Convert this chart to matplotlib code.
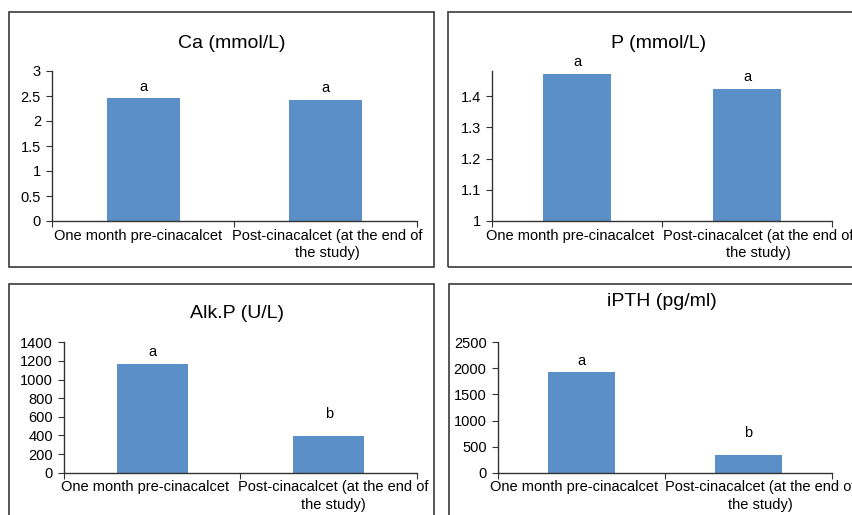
import matplotlib.pyplot as plt
import matplotlib.patches as patches

plt.rcParams['font.family'] = ['Liberation Sans', 'DejaVu Sans']

categories = ['One month pre-cinacalcet', 'Post-cinacalcet (at the end of\nthe study)']

titles = ['Ca (mmol/L)', 'P (mmol/L)', 'Alk.P (U/L)', 'iPTH (pg/ml)']
ca_values = [2.45, 2.42]
p_values = [1.471, 1.423]
alkp_values = [1164, 394]
ipth_values = [1930, 339]
letters_ca = ['a', 'a']
letters_p = ['a', 'a']
letters_alkp = ['a', 'b']
letters_ipth = ['a', 'b']

ylims = [(0, 3), (1, 1.48), (0, 1400), (0, 2500)]
yticks = [[0, 0.5, 1, 1.5, 2, 2.5, 3],
          [1, 1.1, 1.2, 1.3, 1.4],
          [0, 200, 400, 600, 800, 1000, 1200, 1400],
          [0, 500, 1000, 1500, 2000, 2500]]
yticklabels = [['0', '0.5', '1', '1.5', '2', '2.5', '3'],
               ['1', '1.1', '1.2', '1.3', '1.4'],
               ['0', '200', '400', '600', '800', '1000', '1200', '1400'],
               ['0', '500', '1000', '1500', '2000', '2500']]

W, H = 853, 515
fig = plt.figure(figsize=(W / 100, H / 100), dpi=100)

# panel frames in pixels: x0, y0 (top), x1, y1 (bottom)
frames = [(8.5, 12, 434, 266.5), (447.5, 12, 880, 266.5),
          (8.5, 284, 434, 540), (449.5, 284, 880, 540)]
for x0, y0, x1, y1 in frames:
    fig.patches.append(patches.Rectangle((x0 / W, 1 - y1 / H), (x1 - x0) / W, (y1 - y0) / H,
                                         transform=fig.transFigure, fill=False,
                                         edgecolor='#3a3a3a', linewidth=1.2))

# axes rectangles in pixels: left, right, top, bottom
boxes = [(52, 417, 71, 221), (492, 832, 71, 221),
         (64, 417, 342.3, 472.7), (497.7, 831.7, 342.3, 472.7)]
title_y = [43, 43, 313, 302]

data = [ca_values, p_values, alkp_values, ipth_values]
letters = [letters_ca, letters_p, letters_alkp, letters_ipth]
letter_off = [[8.6, 8.6], [8.6, 8.6], [8.6, 15.5], [8.2, 15.5]]
# Excel pushes the two category labels apart (pixels)
label_shift = [[-5, 2], [-7, 11.5], [-7, 5], [-7.5, 12]]

for i in range(4):
    l, r, t, b = boxes[i]
    ax = fig.add_axes([l / W, 1 - b / H, (r - l) / W, (b - t) / H])
    x = [0, 1]
    base = ylims[i][0]
    ax.bar(x, [v - base for v in data[i]], width=0.4, color='#5B8FC8', bottom=base)
    ax.set_xlim(-0.5, 1.5)
    ax.set_ylim(*ylims[i])
    ax.set_yticks(yticks[i])
    ax.set_yticklabels(yticklabels[i], fontsize=10.5)
    ax.set_xticks([-0.5, 0.5, 1.5])
    ax.set_xticklabels([])
    ax.tick_params(axis='x', length=4, direction='out', color='#333333')
    ax.tick_params(axis='y', length=4, direction='out', pad=4, color='#333333')
    for xi, cat, dx in zip(x, categories, label_shift[i]):
        ax.annotate(cat, (xi, 0), xycoords=('data', 'axes fraction'),
                    xytext=(dx * 0.72, -5.5), textcoords='offset points',
                    ha='center', va='top', fontsize=10.5, linespacing=1.3,
                    annotation_clip=False)
    for s in ['top', 'right']:
        ax.spines[s].set_visible(False)
    for s in ['left', 'bottom']:
        ax.spines[s].set_color('#333333')
        ax.spines[s].set_linewidth(1.0)
    for xi, v, lab, off in zip(x, data[i], letters[i], letter_off[i]):
        ax.annotate(lab, (xi, v), xytext=(0, off), textcoords='offset points',
                    ha='center', va='center', fontsize=10.5)
    fig.text(((l + r) / 2 - 3) / W, 1 - title_y[i] / H,
             titles[i], ha='center', va='center', fontsize=14)

fig.savefig('out.png', dpi=100)
